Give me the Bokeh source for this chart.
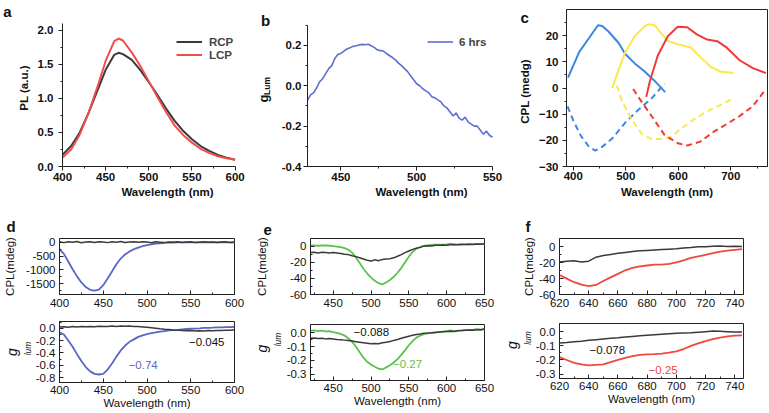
import json
import math
from bokeh.plotting import figure
from bokeh.layouts import row, column
from bokeh.models import (FixedTicker, Label, Legend, LegendItem, LinearAxis,
                          NumeralTickFormatter, Range1d, CustomJSTickFormatter)
from bokeh.embed import file_html
from bokeh.resources import INLINE

FONT = "Liberation Sans"
AX = "#222222"
NB = "\u00a0"

# ---------------- data ----------------
# (a) PL spectra
A_WL = [400, 410, 420, 430, 440, 450, 460, 465, 470, 480, 490, 500, 510, 520,
        530, 540, 550, 560, 570, 580, 590, 600]
A_RCP = [0.17, 0.30, 0.50, 0.78, 1.10, 1.42, 1.64, 1.67, 1.65, 1.57, 1.42, 1.24,
         1.05, 0.85, 0.67, 0.52, 0.40, 0.30, 0.23, 0.17, 0.13, 0.10]
A_LCP = [0.13, 0.25, 0.47, 0.78, 1.15, 1.55, 1.84, 1.88, 1.85, 1.68, 1.48, 1.25,
         1.02, 0.80, 0.60, 0.46, 0.35, 0.26, 0.20, 0.15, 0.12, 0.10]

# (b) g_Lum, 6 hrs
B_WL = list(range(428, 551, 2))
B_G = [-0.072, -0.045, -0.035, -0.010, 0.020, 0.035, 0.060, 0.085, 0.100, 0.135,
       0.155, 0.160, 0.172, 0.182, 0.188, 0.195, 0.198, 0.202, 0.205, 0.203,
       0.206, 0.198, 0.190, 0.178, 0.174, 0.172, 0.160, 0.150, 0.140, 0.128,
       0.112, 0.100, 0.085, 0.070, 0.050, 0.030, 0.010, 0.000, -0.015, -0.025,
       -0.035, -0.055, -0.060, -0.070, -0.080, -0.100, -0.110, -0.130, -0.150,
       -0.135, -0.160, -0.170, -0.155, -0.180, -0.190, -0.200, -0.200, -0.220,
       -0.240, -0.225, -0.245, -0.255]

# (c) CPL (mdeg)
C_BLUE_WL = [390, 411, 430, 447, 455, 467, 486, 499, 517, 536, 555, 575]
C_BLUE = [4.0, 13.7, 19.1, 24.0, 23.7, 21.6, 17.3, 13.0, 9.4, 6.3, 2.7, -1.6]
C_BLUE_D_WL = [389, 400, 415, 430, 442, 455, 474, 499, 524, 549, 574]
C_BLUE_D = [-7.0, -12.5, -18.5, -22.5, -23.9, -22.5, -19.3, -13.2, -8.3, -4.0, 1.7]
C_YEL_WL = [474, 483, 499, 517, 536, 546, 555, 567, 580, 599, 624, 642, 661, 680, 705]
C_YEL = [0.0, 5.1, 13.7, 19.8, 23.7, 24.4, 24.0, 21.0, 18.0, 16.7, 15.5, 11.8,
         8.2, 6.3, 5.7]
C_YEL_D_WL = [483, 492, 511, 530, 549, 567, 586, 605, 630, 655, 680, 705]
C_YEL_D = [0.9, -4.6, -12.0, -17.4, -19.5, -19.5, -18.7, -15.6, -12.0, -8.9,
           -6.5, -4.0]
C_RED_WL = [539, 546, 561, 580, 599, 617, 636, 655, 674, 692, 717, 742, 767]
C_RED = [-3.4, 2.7, 12.4, 19.8, 23.4, 23.2, 20.4, 18.5, 17.9, 15.5, 10.6, 7.6, 5.7]
C_RED_D_WL = [514, 530, 549, 574, 599, 617, 642, 667, 692, 717, 742, 767]
C_RED_D = [-0.4, -5.2, -10.7, -18.0, -21.1, -22.0, -20.5, -16.8, -13.8, -10.7,
           -7.0, -0.4]

# (d)
D_WL = list(range(400, 601, 5))
D_CPL_BLACK = [20, -10, 25, 0, 30, -15, 10, 20, -5, 25, 15, -10, 20, 5, 30, -5, 15,
               25, 0, 20, 10, -15, 20, 5, -10, 15, 0, 20, -5, 10, 25, -10, 5, 20,
               0, 15, -5, 10, 20, -10, 5]
D_CPL_BLUE = [-250, -420, -700, -980, -1240, -1460, -1630, -1730, -1760, -1720,
              -1560, -1320, -1060, -800, -590, -440, -330, -250, -190, -140, -100,
              -70, -50, -35, -20, -12, -6, -3, 0, 0, 2, 0, -2, 0, 2, 0, 0, 3, 0, 2, 0]
D_G_BLACK = [0.020, 0.025, 0.018, 0.028, 0.022, 0.030, 0.024, 0.030, 0.026, 0.032,
             0.028, 0.030, 0.035, 0.030, 0.036, 0.032, 0.038, 0.030, 0.028, 0.022,
             0.015, 0.008, 0.000, -0.008, -0.015, -0.020, -0.028, -0.030, -0.036,
             -0.040, -0.038, -0.045, -0.040, -0.044, -0.038, -0.042, -0.035,
             -0.038, -0.030, -0.032, -0.025]
D_G_BLUE = [-0.065, -0.10, -0.20, -0.30, -0.42, -0.53, -0.63, -0.70, -0.74, -0.75,
            -0.74, -0.67, -0.57, -0.46, -0.36, -0.28, -0.22, -0.18, -0.14, -0.115,
            -0.095, -0.08, -0.065, -0.055, -0.045, -0.035, -0.03, -0.025, -0.018,
            -0.012, -0.008, -0.004, 0.0, 0.005, 0.008, 0.01, 0.014, 0.015, 0.018,
            0.02, 0.025]

# (e)
E_WL = list(range(420, 651, 5))
E_CPL_GREEN = [0.8, 1, 0.5, 1, 0.8, 0.5, 0, -0.5, -1.2, -2.5, -4.5, -8, -14, -21,
               -28, -34, -39, -43, -46, -47.5, -45, -42, -38, -33, -27, -20, -13,
               -7, -3, -1, 0.5, 1, 1.5, 1.8, 2, 2, 2.2, 3, 2, 2.2, 2.5, 2.2, 2.6,
               2.4, 2.8, 2.6, 3]
E_CPL_BLACK = [-8, -7.5, -8.5, -7.5, -8, -8.5, -8, -8.5, -9, -10, -10.5, -12, -13,
               -14.5, -16, -17.5, -18.5, -17, -18, -16.5, -16, -15.5, -14.5, -12.5,
               -10.5, -8, -6, -4, -2.5, -1.5, 0, 0.5, 0.3, 1, 1.2, 1.5, 1.2, 1.8, 2,
               1.6, 2.2, 2, 2.5, 2.2, 2.8, 2.4, 3]
E_G_GREEN = [0.015, 0.018, 0.012, 0.015, 0.010, 0.012, 0.005, 0.0, -0.008, -0.02,
             -0.04, -0.065, -0.10, -0.14, -0.18, -0.21, -0.23, -0.245, -0.26,
             -0.265, -0.25, -0.235, -0.215, -0.19, -0.16, -0.125, -0.09, -0.06,
             -0.035, -0.02, -0.01, -0.005, 0.0, 0.003, 0.006, 0.008, 0.012, 0.018,
             0.012, 0.015, 0.018, 0.02, 0.02, 0.022, 0.025, 0.022, 0.028]
E_G_BLACK = [-0.04, -0.038, -0.042, -0.04, -0.044, -0.042, -0.045, -0.048, -0.05,
             -0.053, -0.056, -0.06, -0.064, -0.068, -0.072, -0.076, -0.08, -0.077,
             -0.079, -0.072, -0.068, -0.063, -0.055, -0.048, -0.04, -0.032, -0.025,
             -0.018, -0.012, -0.008, -0.003, -0.002, 0.0, 0.003, 0.005, 0.008,
             0.01, 0.012, 0.01, 0.015, 0.016, 0.018, 0.02, 0.018, 0.024, 0.022,
             0.028]

# (f)
F_WL = list(range(620, 746, 5))
F_CPL_RED = [-35.5, -40, -44.5, -47.5, -49.5, -48, -43, -38.5, -34, -29.5, -26.5,
             -24.5, -23.5, -22.5, -22.5, -21.5, -19.5, -17, -14, -12, -10, -8, -6,
             -4.8, -3.8, -3]
F_CPL_BLACK = [-19, -18, -17.5, -19, -18, -13, -11, -9.5, -8, -7, -6, -5, -4.5, -4,
               -3.5, -3, -2.5, -1.5, -0.8, 0, 0.2, 0.8, 1, 0.5, 0.8, 0.3]
F_G_RED = [-0.18, -0.20, -0.22, -0.232, -0.238, -0.235, -0.232, -0.215, -0.20,
           -0.185, -0.172, -0.163, -0.16, -0.158, -0.155, -0.148, -0.138, -0.122,
           -0.10, -0.082, -0.066, -0.052, -0.04, -0.032, -0.026, -0.024]
F_G_BLACK = [-0.079, -0.075, -0.07, -0.066, -0.06, -0.055, -0.05, -0.046, -0.042,
             -0.037, -0.032, -0.028, -0.024, -0.02, -0.016, -0.013, -0.01, -0.008,
             -0.006, -0.002, 0.002, 0.006, 0.004, 0.002, 0.0, 0.0]

BLACK = "#3a3a3a"
UP = math.pi / 2   # rotation that makes a Label read bottom-to-top


def make_fig(w, h, mbl, mbr, mbt, mbb, xr, yr, boxed):
    p = figure(width=w, height=h, x_range=Range1d(*xr), y_range=Range1d(*yr),
               output_backend="svg", toolbar_location=None,
               min_border_left=mbl, min_border_right=mbr,
               min_border_top=mbt, min_border_bottom=mbb)
    p.grid.visible = False
    p.background_fill_color = "white"
    p.border_fill_color = "white"
    p.outline_line_color = AX if boxed else None
    p.outline_line_width = 1
    return p


def style_axis(ax, ticks, minor, bold, inside, lab_stand, ax_stand, label=None,
               fmt=None, size="11.5px"):
    ax.ticker = FixedTicker(ticks=ticks, minor_ticks=minor)
    if fmt:
        ax.formatter = NumeralTickFormatter(format=fmt)
    ax.axis_line_color = AX
    ax.major_tick_line_color = AX
    ax.minor_tick_line_color = AX
    if inside:
        ax.major_tick_in, ax.major_tick_out = 4, 0
        ax.minor_tick_in, ax.minor_tick_out = 2, 0
    else:
        ax.major_tick_in, ax.major_tick_out = 0, 4
        ax.minor_tick_in, ax.minor_tick_out = 0, 2
    ax.major_label_text_font = FONT
    ax.major_label_text_font_size = size
    ax.major_label_text_font_style = "bold" if bold else "normal"
    ax.major_label_text_color = "#111111"
    ax.major_label_standoff = lab_stand
    if label:
        ax.axis_label = label
        ax.axis_label_text_font = FONT
        ax.axis_label_text_font_size = size
        ax.axis_label_text_font_style = "bold" if bold else "normal"
        ax.axis_label_text_color = "#111111"
        ax.axis_label_standoff = ax_stand


def bare_axis():
    ax = LinearAxis()
    ax.axis_line_color = None
    ax.major_tick_line_color = None
    ax.minor_tick_line_color = None
    ax.major_tick_in = ax.major_tick_out = 0
    ax.minor_tick_in = ax.minor_tick_out = 0
    return ax


def text_axis(p, text, y, size, style, standoff):
    """Bare extra left axis whose single (horizontal) tick label is a text."""
    ax = bare_axis()
    ax.ticker = FixedTicker(ticks=[y], minor_ticks=[])
    ax.formatter = CustomJSTickFormatter(code="return %s;" % json.dumps(text))
    ax.major_label_standoff = standoff
    ax.major_label_orientation = "horizontal"
    ax.major_label_text_font = FONT
    ax.major_label_text_font_size = size
    ax.major_label_text_font_style = style
    ax.major_label_text_color = "#111111"
    p.add_layout(ax, "left")


def label_axis(p, text, size, style, standoff):
    """Bare extra left axis (no ticks) used only for its vertical axis label."""
    ax = bare_axis()
    ax.ticker = FixedTicker(ticks=[], minor_ticks=[])
    ax.major_label_standoff = 0
    ax.axis_label = text
    ax.axis_label_text_font = FONT
    ax.axis_label_text_font_size = size
    ax.axis_label_text_font_style = style
    ax.axis_label_text_color = "#111111"
    ax.axis_label_standoff = standoff
    p.add_layout(ax, "left")


def letter(p, text, offset, standoff):
    p.title.text = text
    p.title.align = "left"
    p.title.offset = offset
    p.title.standoff = standoff
    p.title.text_font = FONT
    p.title.text_font_size = "15px"
    p.title.text_font_style = "bold"
    p.title.text_color = "#111111"


def dtxt(p, text, x, y, color, size="11.5px", style="normal", angle=0.0,
         baseline="middle", align="left"):
    p.add_layout(Label(x=x, y=y, text=text, text_font=FONT, text_font_size=size,
                       text_font_style=style, text_color=color, angle=angle,
                       text_baseline=baseline, text_align=align))


def style_legend(lg):
    lg.border_line_color = None
    lg.background_fill_alpha = 0
    lg.padding = 0
    lg.margin = 0
    lg.spacing = 0
    lg.glyph_width = 26
    lg.glyph_height = 13
    lg.label_height = 13
    lg.label_standoff = 7
    lg.label_text_font = FONT
    lg.label_text_font_size = "11.5px"
    lg.label_text_font_style = "bold"


# ---------------- panel a ----------------
# a's (unboxed) frame is stretched upwards and rightwards up to b's axis; the
# axes are bounded to the data span.  Panel b's letter and y label are
# written inside this stretched frame.
pa = make_fig(272, 210, 53, 0, 9, 44, (400, 643.33), (0, 2.3056), False)
style_axis(pa.xaxis[0], [400, 450, 500, 550, 600], [425, 475, 525, 575], True, False,
           2, 2, "Wavelength (nm)")
style_axis(pa.yaxis[0], [0, 0.5, 1.0, 1.5, 2.0], [0.25, 0.75, 1.25, 1.75], True, False,
           5, 5, "PL (a.u.)", "0.0")
pa.xaxis[0].bounds = (400, 600)
pa.yaxis[0].bounds = (0, 2.1)
text_axis(pa, "a", 2.2762, "15px", "bold", 3)
r_rcp = pa.line(A_WL, A_RCP, line_color=BLACK, line_width=2)
r_lcp = pa.line(A_WL, A_LCP, line_color="#f24b4b", line_width=2)
leg_a = Legend(items=[LegendItem(label="RCP", renderers=[r_rcp]),
                      LegendItem(label="LCP", renderers=[r_lcp])],
               location=(114, 105))
style_legend(leg_a)
pa.add_layout(leg_a)
dtxt(pa, "b", 630, 2.144, "#111111", size="15px", style="bold", baseline="alphabetic")
dtxt(pa, "g", 633.3, 0.94, "#111111", size="13px", style="bold", angle=UP,
     baseline="alphabetic")
dtxt(pa, "Lum", 637.2, 1.05, "#111111", size="8.5px", style="bold", angle=UP,
     baseline="alphabetic")

# ---------------- panel b ----------------
# b's frame is stretched upwards and rightwards up to c's axis; c's letter
# and y label are written inside it.
pb = make_fig(263, 210, 35, 0, 7, 43, (428, 578.36), (-0.4, 0.3778), False)
style_axis(pb.xaxis[0], [450, 500, 550], [475, 525], True, False, 2, 2,
           "Wavelength (nm)")
style_axis(pb.yaxis[0], [-0.4, -0.2, 0.0, 0.2], [-0.3, -0.1, 0.1, 0.3], True, False,
           2, 5, None, "0.0")
pb.xaxis[0].bounds = (428, 550)
pb.yaxis[0].bounds = (-0.4, 0.3)
r_b = pb.line(B_WL, B_G, line_color="#5c6fd0", line_width=1.6)
leg_b = Legend(items=[LegendItem(label="6 hrs", renderers=[r_b])], location=(120, 118))
style_legend(leg_b)
leg_b.label_standoff = 6
pb.add_layout(leg_b)
dtxt(pb, "c", 568.46, 0.3389, "#111111", size="15px", style="bold",
     baseline="alphabetic")
dtxt(pb, "CPL (medg)", 571.76, -0.0281, "#111111", size="11.5px", style="bold",
     angle=UP, baseline="middle", align="center")

# ---------------- panel c ----------------
pc = make_fig(234, 210, 28, 2, 8, 37, (387, 770), (-30, 30), True)
style_axis(pc.xaxis[0], [400, 500, 600, 700], [450, 550, 650, 750], True, False, 1, 3,
           "Wavelength (nm)")
style_axis(pc.yaxis[0], [-30, -20, -10, 0, 10, 20], [-25, -15, -5, 5, 15, 25], True,
           False, 4, 5)
CB, CY, CR = "#3b86e2", "#f7ea4a", "#f03a3a"
pc.line(C_BLUE_WL, C_BLUE, line_color=CB, line_width=2)
pc.line(C_BLUE_D_WL, C_BLUE_D, line_color=CB, line_width=2, line_dash="6 4")
pc.line(C_YEL_WL, C_YEL, line_color=CY, line_width=2)
pc.line(C_YEL_D_WL, C_YEL_D, line_color=CY, line_width=2, line_dash="6 4")
pc.line(C_RED_WL, C_RED, line_color=CR, line_width=2)
pc.line(C_RED_D_WL, C_RED_D, line_color=CR, line_width=2, line_dash="6 4")


# ---------------- bottom row ----------------
def pair(w, mbl, mbr, bot_b, xr, xt, xm, yr_top, yt_top, ym_top, yr_bot,
         yt_bot, ym_bot, ystand_top, glab):
    top = make_fig(w, 103, mbl, mbr, 28, 19, xr, yr_top, True)
    bot = make_fig(w, 100, mbl, mbr, bot_b[0], bot_b[1], xr, yr_bot, True)
    style_axis(top.xaxis[0], xt, xm, False, True, 4, 0)
    style_axis(top.yaxis[0], yt_top, ym_top, False, True, 4, ystand_top, "CPL(mdeg)",
               "0")
    style_axis(bot.xaxis[0], xt, xm, False, True, 3, 0, "Wavelength (nm)")
    style_axis(bot.yaxis[0], yt_bot, ym_bot, False, True, 4, 0, None, "0.0")
    s_lum, g_text, lum_text = glab
    # subscript "lum" = the y axis' own label; "g" = label of a bare outer axis
    yb = bot.yaxis[0]
    yb.axis_label = lum_text
    yb.axis_label_text_font = FONT
    yb.axis_label_text_font_size = "8.5px"
    yb.axis_label_text_font_style = "italic"
    yb.axis_label_text_color = "#111111"
    yb.axis_label_standoff = s_lum
    label_axis(bot, g_text, "14px", "italic", 0)
    return top, bot


# d   (leading non-breaking spaces slide the g / lum labels up along the axis)
dt, db = pair(250, 54, 16, (8, 31), (400, 600), [400, 450, 500, 550, 600],
              [425, 475, 525, 575], (-1900, 140), [-1500, -1000, -500, 0],
              [-1750, -1250, -750, -250], (-0.88, 0.11), [-0.8, -0.6, -0.4, -0.2, 0.0],
              [-0.7, -0.5, -0.3, -0.1, 0.1], 7, (0, "g", NB * 3 + "lum"))
DB = "#5a66c6"
dt.line(D_WL, D_CPL_BLUE, line_color=DB, line_width=1.8)
dt.line(D_WL, D_CPL_BLACK, line_color=BLACK, line_width=1.5)
db.line(D_WL, D_G_BLUE, line_color=DB, line_width=1.8)
db.line(D_WL, D_G_BLACK, line_color=BLACK, line_width=1.5)
dtxt(db, "\u22120.045", 548, -0.23, "#111111")
dtxt(db, "\u22120.74", 479, -0.60, DB)
letter(dt, "d", -53, 7)

# e
et, eb = pair(250, 56, 16, (11, 33), (420, 650), [450, 500, 550, 600, 650],
              [425, 475, 525, 575, 625], (-60, 9.5), [-60, -40, -20, 0],
              [-50, -30, -10], (-0.345, 0.06), [-0.3, -0.2, -0.1, 0.0],
              [-0.25, -0.15, -0.05], 19, (1, NB * 2 + "g", NB * 11 + "lum"))
EG = "#5cc24f"
et.line(E_WL, E_CPL_GREEN, line_color=EG, line_width=1.8)
et.line(E_WL, E_CPL_BLACK, line_color=BLACK, line_width=1.5)
eb.line(E_WL, E_G_GREEN, line_color=EG, line_width=1.8)
eb.line(E_WL, E_G_BLACK, line_color=BLACK, line_width=1.5)
dtxt(eb, "\u22120.088", 477, 0.004, "#111111")
dtxt(eb, "\u22120.27", 529, -0.228, EG)
letter(et, "e", -47, 7)

# f
ft, fb = pair(269, 54, 26, (10, 35), (620, 746),
              [620, 640, 660, 680, 700, 720, 740], [630, 650, 670, 690, 710, 730],
              (-60, 10.5), [-60, -40, -20, 0], [-50, -30, -10], (-0.332, 0.06),
              [-0.3, -0.2, -0.1, 0.0], [-0.25, -0.15, -0.05], 1,
              (0, NB * 3 + "g", NB * 11 + "lum"))
FR = "#f0483a"
ft.line(F_WL, F_CPL_RED, line_color=FR, line_width=1.8)
ft.line(F_WL, F_CPL_BLACK, line_color=BLACK, line_width=1.5)
fb.line(F_WL, F_G_RED, line_color=FR, line_width=1.8)
fb.line(F_WL, F_G_BLACK, line_color=BLACK, line_width=1.5)
dtxt(fb, "\u22120.078", 640.6, -0.132, "#111111")
dtxt(fb, "\u22120.25", 681, -0.268, FR)
letter(ft, "f", -34, 7)

layout = column(row(pa, pb, pc),
                row(column(dt, db), column(et, eb), column(ft, fb)))

open("out.html", "w").write(file_html(layout, INLINE))
